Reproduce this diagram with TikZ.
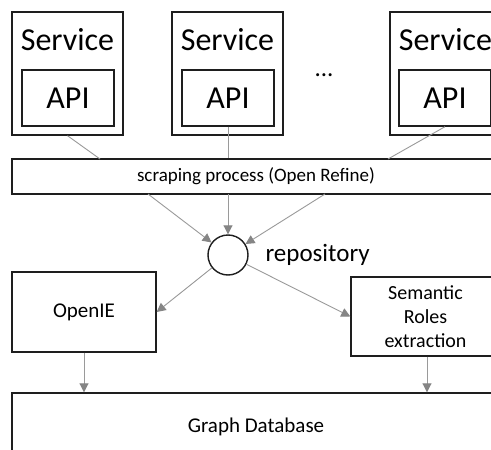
\documentclass[tikz,border=0pt]{standalone}
\usepackage{fontspec}
\setmainfont{Carlito}
\usetikzlibrary{arrows.meta}
\definecolor{boxline}{HTML}{1E1E1E}
\definecolor{conn}{HTML}{9A9A9A}
\definecolor{tipc}{HTML}{858585}
\tikzset{
  box/.style={draw=boxline, line width=1.4pt, inner sep=0pt, fill=white},
  big/.style={font=\fontsize{32}{38}\selectfont},
  mid/.style={font=\fontsize{21}{24}\selectfont},
  conline/.style={draw=conn, line width=0.9pt},
  arr/.style={conline, -{Triangle[length=9pt,width=9pt,fill=tipc,color=tipc]}},
}
\begin{document}
\begin{tikzpicture}[x=1pt,y=-1pt]
\useasboundingbox (0,0) rectangle (491,450);
\fill[white] (0,0) rectangle (491,450);
\clip (0,0) rectangle (491,450);
% services
\node[box, minimum width=111pt, minimum height=123pt] (s1) at (67.5,73.5) {};
\node[big] (s1t) at (67.5,39.5) {Service};
\node[box, big, minimum width=92pt, minimum height=56pt] (api1) at (68,98) {API};
\node[box, minimum width=111pt, minimum height=123pt] (s2) at (227.5,73.5) {};
\node[big] (s2t) at (227.5,39.5) {Service};
\node[box, big, minimum width=92pt, minimum height=56pt] (api2) at (228,98) {API};
\node[box, minimum width=111pt, minimum height=123pt] (s3) at (445.5,73.5) {};
\node[big] (s3t) at (445.5,39.5) {Service};
\node[box, big, minimum width=92pt, minimum height=56pt] (api3) at (445,98) {API};
\node[font=\fontsize{25}{30}\selectfont, anchor=base] (dots) at (324,76) {...};
% scraping
\node[box, font=\fontsize{19}{22}\selectfont, minimum width=488pt, minimum height=35pt] (scrape) at (256,176.5) {scraping process (Open Refine)};
\coordinate (in1) at (100,159);
\coordinate (in3) at (388,159);
\draw[conline] (s1.south) -- (in1);
\draw[conline] (api2.south) -- (api2.south |- scrape.north);
\draw[conline] (api3.south) -- (in3);
% repository
\node[draw=boxline, line width=1.4pt, circle, minimum size=40pt, inner sep=0pt] (repo) at (228,255) {};
\node[font=\fontsize{25}{30}\selectfont, anchor=base west] (repot) at (262,261) {repository};
\coordinate (o1) at (148,194);
\coordinate (o3) at (325,194);
\draw[arr] (o1) -- (repo);
\draw[arr] (scrape.south |- 0,194) ++(-28,0) coordinate (o2) -- (repo);
\draw[arr] (o3) -- (repo);
% extraction
\node[box, mid, minimum width=144pt, minimum height=80pt] (oie) at (84,312) {OpenIE};
\node[box, font=\fontsize{20}{24}\selectfont, align=center, minimum width=149pt, minimum height=79pt] (sem) at (425.5,316.5) {Semantic\\Roles\\extraction};
\draw[arr] (repo) -- (oie.east);
\draw[arr] (repo) -- (sem.west);
% graph database
\node[box, mid, minimum width=488pt, minimum height=67pt] (graph) at (256,426.5) {Graph Database};
\draw[arr] (oie.south) -- (oie.south |- graph.north);
\draw[arr] ([xshift=1.5pt]sem.south) -- ([xshift=1.5pt]sem.south |- graph.north);
\end{tikzpicture}
\end{document}
